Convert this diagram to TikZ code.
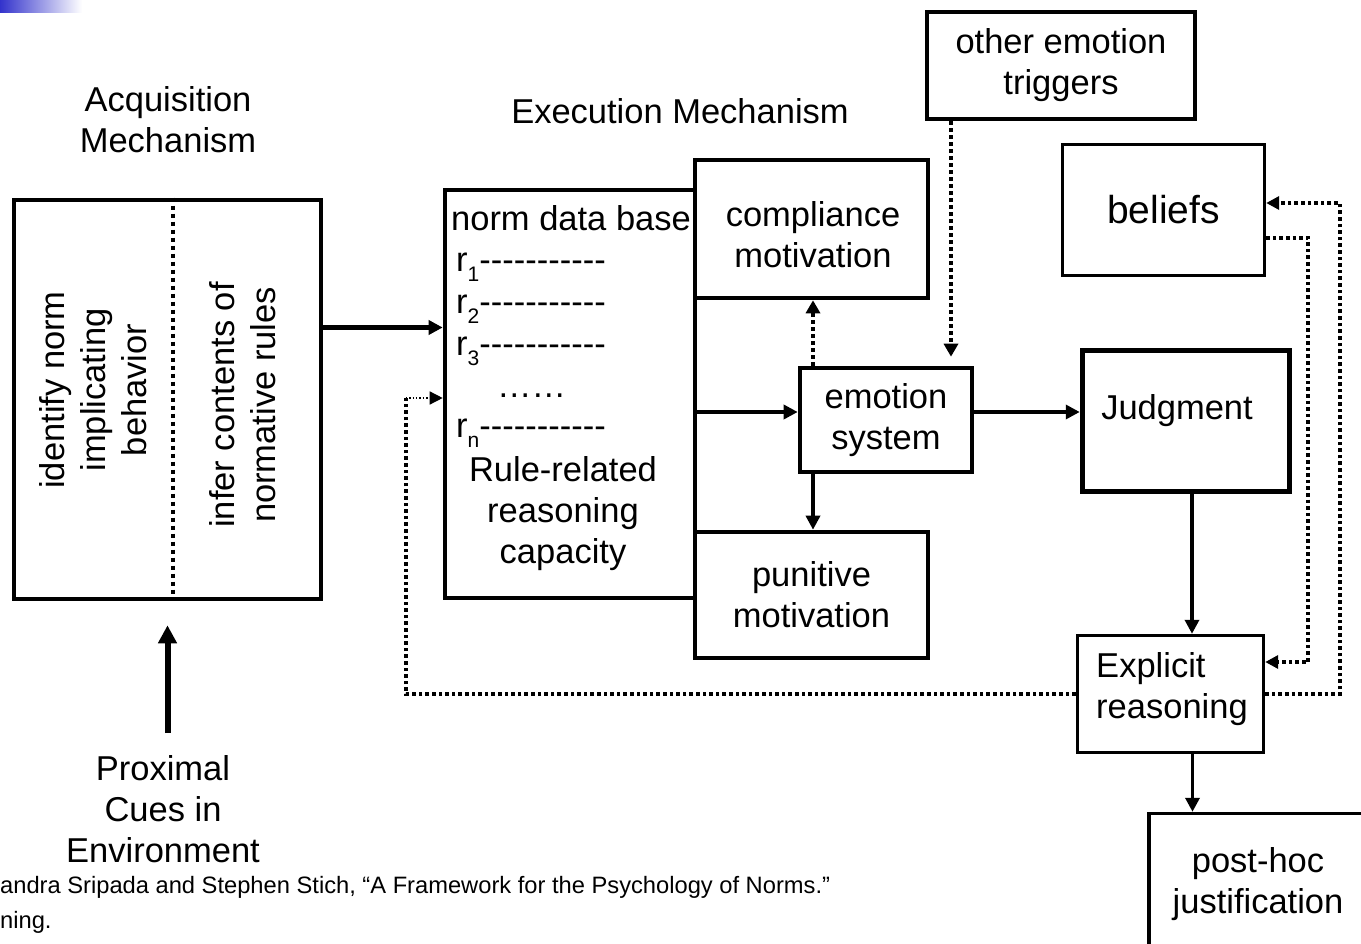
\documentclass[tikz,border=0pt]{standalone}
\usepackage{fontspec}
\setmainfont{Liberation Sans}
\usetikzlibrary{arrows.meta, positioning, calc}
\definecolor{barblue}{RGB}{51,51,204}
\newcommand{\rsub}[1]{\raisebox{-10pt}{\fontsize{21}{21}\selectfont #1}}
\newcommand{\rdashes}{-{}-{}-{}-{}-{}-{}-{}-{}-{}-{}-}

\begin{document}
\begin{tikzpicture}[x=1pt, y=-1pt,
  every node/.style={font=\fontsize{34.5}{41}\selectfont, inner sep=0pt},
  box/.style={draw, line width=4.6pt, fill=white, align=center},
  thinbox/.style={box, line width=3.4pt},
  solidarrow/.style={line width=3.4pt, -{Triangle[length=14pt,width=14pt]}},
  bigarrow/.style={line width=6pt, -{Triangle[length=18pt,width=18pt]}},
  dotarrow/.style={line width=4pt, dash pattern=on 4pt off 3pt, -{Triangle[length=13pt,width=14pt]}},
  loopline/.style={line width=3.6pt, dash pattern=on 3.6pt off 3pt},
  looparrow/.style={loopline, -{Triangle[length=13pt,width=13pt]}}]
\useasboundingbox (0,0) rectangle (1361,944);
\shade[left color=barblue, right color=white] (0,0) rectangle (82,13);

% headings
\node[align=center] (acqlabel) at (168,120) {Acquisition\\Mechanism};
\node (exelabel) at (680,111) {Execution Mechanism};

% acquisition mechanism
\node[box, minimum width=307pt, minimum height=399pt] (acq) at (167.5,399.5) {};
\draw[line width=4.5pt, dash pattern=on 4.5pt off 3.5pt] ([xshift=5.5pt]acq.north) -- ([xshift=5.5pt]acq.south);
\node[rotate=90, align=center] (identify) at (93,390) {identify norm\\implicating\\behavior};
\node[rotate=90, align=center] (infer) at (243,405) {infer contents of\\normative rules};

\node[align=center] (prox) at (163,809) {Proximal\\Cues in\\Environment};
\draw[bigarrow, shorten <=22pt, shorten >=24pt] (prox.north -| acq.south) -- (acq.south);

\node[anchor=west, align=left, font=\fontsize{23.7}{35}\selectfont] (cite) at (0,905)
  {andra Sripada and Stephen Stich, “A Framework for the Psychology of Norms.”\\ning.};

% norm data base
\node[box, minimum width=250pt, minimum height=408pt] (normdb) at (570,394) {};
\node (dbtitle) at (571,218) {norm data base};
\node[anchor=base west] (r1) at (456,272) {r\rsub{1}\rdashes};
\node[anchor=base west] (r2) at (456,313) {r\rsub{2}\rdashes};
\node[anchor=base west] (r3) at (456,355) {r\rsub{3}\rdashes};
\node[anchor=base west] (rdots) at (497,397) {……};
\node[anchor=base west] (rn) at (456,437) {r\rsub{n}\rdashes};
\node[align=center] (rulecap) at (563,514) {Rule-related\\reasoning\\capacity};

% execution boxes
\node[box, minimum width=233pt, minimum height=138pt] (comply) at (811.5,229) {};
\node[align=center] (complytext) at (813,235) {compliance\\motivation};
\node[box, minimum width=233pt, minimum height=126pt] (punit) at (811.5,595) {punitive\\motivation};
\node[box, minimum width=172pt, minimum height=104pt] (emo) at (886,420) {emotion\\system};
\node[box, minimum width=268pt, minimum height=107pt] (other) at (1061,65.5) {other emotion\\triggers};
\node[thinbox, minimum width=202pt, minimum height=131pt, font=\fontsize{39}{46}\selectfont] (beliefs) at (1163.5,210) {beliefs};
\node[box, line width=5.5pt, minimum width=207pt, minimum height=141pt] (judg) at (1186,421) {};
\node (judgtext) at (1177,411) {Judgment};
\node[thinbox, minimum width=186pt, minimum height=117pt] (expl) at (1170.5,694) {};
\node[align=left] (expltext) at (1172,689) {Explicit\\reasoning};
\node[thinbox, minimum width=221pt, minimum height=147pt] (post) at (1259.5,887) {};
\node[align=center] (posttext) at (1258,884) {post-hoc\\justification};

% connectors
\coordinate (acqout) at ([yshift=72pt]acq.east);
\draw[solidarrow, line width=4.6pt] (acqout) -- (acqout -| normdb.west);
\coordinate (emoin) at ([yshift=8pt]emo.west);
\draw[solidarrow] (emoin -| normdb.east) -- (emoin);
\draw[solidarrow] ([yshift=8pt]emo.east) -- (emoin -| judg.west);
\coordinate (emoleft) at ([xshift=-73pt]emo.north);
\draw[dotarrow] (emoleft) -- (emoleft |- comply.south);
\draw[solidarrow] (emoleft |- emo.south) -- (emoleft |- punit.north);
\coordinate (trig) at ([xshift=-110pt]other.south);
\draw[dotarrow, shorten >=9pt] (trig) -- (trig |- emo.north);
\coordinate (judgout) at ([xshift=6pt]judg.south);
\draw[solidarrow] (judgout) -- (judgout |- expl.north);
\coordinate (explout) at ([xshift=22pt]expl.south);
\draw[solidarrow] (explout) -- (explout |- post.north);

% feedback loops
\draw[looparrow] ([yshift=-28pt]beliefs.east) -- ++(42,0) |- ([yshift=32pt]expl.east);
\draw[looparrow] (expl.east) -- ++(74.5,0) |- ([yshift=7pt]beliefs.east);
\coordinate (fbturn) at ([xshift=-37pt, yshift=-4pt]normdb.west);
\draw[loopline] (expl.west) -| (fbturn);
\draw[line width=1.4pt, dotted, -{Triangle[length=13pt,width=13pt]}] (fbturn) -- (fbturn -| normdb.west);
\end{tikzpicture}
\end{document}
